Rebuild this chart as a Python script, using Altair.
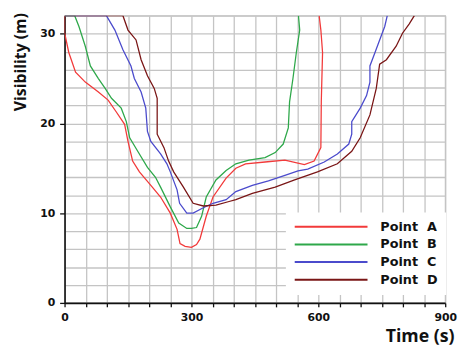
import altair as alt
import pandas as pd

names = ["Point A", "Point B", "Point C", "Point D"]
colors = ["#f23a3a", "#2ea84a", "#4b4bcc", "#7a1616"]

t_a = [0, 0, 10, 26, 49, 80, 103, 122, 142, 150, 161, 177, 204, 227, 250, 266, 273, 285, 300, 312, 320, 335, 351, 382, 405, 428, 474, 521, 567, 590, 606, 607, 610, 606, 602]
v_a = [32, 30.1, 27.9, 25.7, 24.6, 23.5, 22.6, 21.3, 19.9, 18.0, 15.8, 14.6, 13.1, 11.8, 10.0, 8.2, 6.6, 6.3, 6.2, 6.5, 7.1, 9.65, 11.8, 13.9, 15.0, 15.5, 15.7, 15.9, 15.4, 15.8, 17.3, 22.4, 27.9, 30.4, 32]

t_b = [0, 24, 34, 49, 61, 80, 96, 111, 134, 146, 154, 173, 196, 215, 227, 250, 270, 289, 300, 312, 324, 335, 358, 382, 405, 436, 474, 498, 517, 529, 532, 540, 548, 556, 553]
v_b = [32, 32, 30.8, 28.6, 26.4, 25.0, 23.9, 22.8, 21.7, 20.2, 18.4, 16.9, 15.1, 14.0, 12.9, 10.7, 8.9, 8.3, 8.3, 8.4, 9.65, 11.8, 13.7, 14.75, 15.5, 15.9, 16.2, 16.75, 17.7, 19.5, 22.4, 25.0, 27.9, 30.4, 32]

t_c = [0, 99, 119, 138, 157, 165, 181, 192, 196, 204, 227, 242, 250, 266, 272, 289, 304, 328, 351, 382, 405, 444, 482, 521, 552, 575, 614, 645, 672, 679, 679, 699, 714, 722, 722, 734, 745, 757, 763]
v_c = [32, 32, 30.4, 28.2, 26.4, 25.0, 23.5, 21.7, 19.1, 18.0, 16.6, 15.5, 14.6, 12.6, 11.1, 10.0, 10.0, 10.6, 11.1, 11.5, 12.4, 13.1, 13.6, 14.2, 14.7, 14.9, 15.7, 16.6, 17.7, 18.8, 20.2, 21.7, 23.1, 24.6, 26.4, 27.9, 29.3, 30.8, 32]

t_d = [0, 138, 150, 169, 181, 196, 212, 219, 219, 235, 246, 258, 281, 304, 328, 358, 389, 405, 444, 498, 544, 598, 645, 679, 699, 722, 737, 745, 761, 784, 799, 815, 827]
v_d = [32, 32, 30.4, 29.3, 27.1, 25.3, 23.9, 22.8, 18.8, 17.3, 15.8, 14.6, 12.9, 11.1, 10.8, 10.9, 11.3, 11.5, 12.2, 12.9, 13.7, 14.6, 15.5, 16.9, 18.4, 20.95, 23.9, 26.6, 27.1, 28.6, 30.05, 31.1, 32]

x_ticks = list(range(0, 901, 50))
y_ticks = list(range(0, 33, 2))

rows = []
for name, ts, vs in zip(names, [t_a, t_b, t_c, t_d], [v_a, v_b, v_c, v_d]):
    for i, (t, v) in enumerate(zip(ts, vs)):
        rows.append({"series": name, "t": t, "v": v, "i": i})
df = pd.DataFrame(rows)

lbl_font = "DejaVu Sans"
ttl_font = "Open Sans"

chart = alt.Chart(df).mark_line(strokeWidth=1.3, clip=True).encode(
    x=alt.X("t:Q", scale=alt.Scale(domain=[0, 900], nice=False),
            axis=alt.Axis(values=x_ticks,
                          labelExpr="datum.value % 300 == 0 ? datum.label : ''",
                          title="Time (s)", titleFont=ttl_font, titleFontSize=18,
                          titleFontWeight="bold", titleColor="#111",
                          titleX=396, titleY=39, titleAlign="right", titleBaseline="alphabetic",
                          labelFont=lbl_font, labelFontSize=11, labelFontWeight="bold",
                          labelColor="#111", labelFlush=False, labelPadding=5,
                          tickSize=4, tickColor="#111", tickWidth=1.3,
                          domainColor="#111", domainWidth=1.6,
                          grid=True, gridColor="#c4c4c4", gridWidth=1.3)),
    y=alt.Y("v:Q", scale=alt.Scale(domain=[0, 32], nice=False),
            axis=alt.Axis(values=y_ticks,
                          labelExpr="datum.value % 10 == 0 ? datum.label : ''",
                          title="Visibility (m)", titleFont=ttl_font, titleFontSize=16,
                          titleFontWeight="bold", titleColor="#111",
                          titleX=-53, titleY=-3, titleAngle=-90, titleAlign="right",
                          titleBaseline="top",
                          labelFont=lbl_font, labelFontSize=11, labelFontWeight="bold",
                          labelColor="#111", labelPadding=5,
                          tickSize=5, tickWidth=1.3,
                          tickColor={"condition": {"test": "datum.value % 10 == 0", "value": "#111"},
                                     "value": "transparent"},
                          domainColor="#111", domainWidth=1.6,
                          grid=True, gridColor="#c4c4c4", gridWidth=1.3)),
    color=alt.Color("series:N", scale=alt.Scale(domain=names, range=colors),
                    legend=alt.Legend(title=None, orient="none", legendX=225, legendY=200,
                                      fillColor="white", padding=8,
                                      symbolType="stroke", symbolSize=5476,
                                      symbolStrokeWidth=2, clipHeight=13, rowPadding=4,
                                      labelOffset=12,
                                      labelExpr="replace(datum.label, ' ', '\u00a0\u00a0')",
                                      labelFont=lbl_font, labelFontSize=13,
                                      labelFontWeight="bold", labelColor="#111")),
    order="i:Q",
).properties(
    width=387, height=292,
    autosize=alt.AutoSizeParams(type="none"),
    padding={"left": 57.5, "top": 5, "right": 13, "bottom": 43},
).configure_view(stroke="#c4c4c4", strokeWidth=1.3)

chart.save("out.html", embed_options={"renderer": "svg", "actions": False})
